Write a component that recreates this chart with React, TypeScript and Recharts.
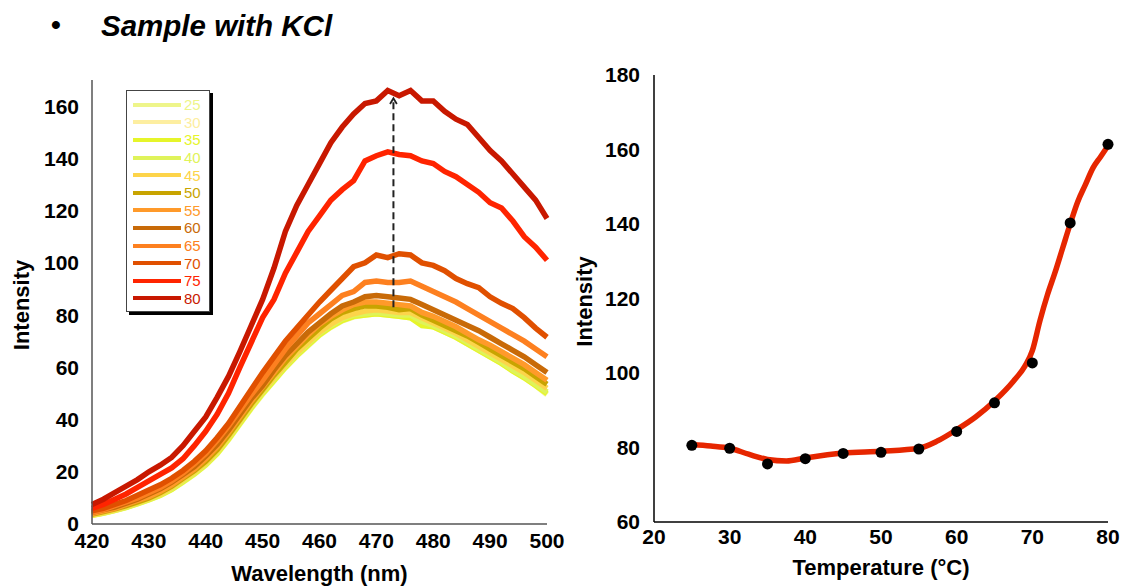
import React from 'react';
import {
  LineChart,
  ComposedChart,
  Line,
  Scatter,
  XAxis,
  YAxis,
  Legend,
  Label,
} from 'recharts';

const FONT = '"Liberation Sans", Arial, Helvetica, sans-serif';

// left panel: emission spectra at each temperature
const wavelengths = [
  420, 422, 424, 426, 428, 430, 432, 434, 436, 438, 440, 442, 444, 446, 448, 450, 452, 454, 456, 458, 460,
  462, 464, 466, 468, 470, 472, 474, 476, 478, 480, 482, 484, 486, 488, 490, 492, 494, 496, 498, 500,
];

const s25 = [3.3, 4.1, 5.1, 6.3, 7.7, 9.2, 10.9, 13.2, 16, 19, 22.5, 26.8, 32.2, 38.2, 44.2, 49.7, 54.8, 59.8, 64.3, 68.3, 72.3, 75.3, 77.8, 79.3, 80, 80.5, 80, 79.5, 79, 77, 75.5, 73.5, 71.5, 69, 66.5, 64, 61.5, 58.7, 56, 53, 49.5];
const s30 = [3.4, 4.2, 5.2, 6.5, 7.9, 9.4, 11.1, 13.4, 16.3, 19.3, 22.8, 27.2, 32.7, 38.7, 44.7, 50.2, 55.2, 60.2, 64.7, 68.8, 72.8, 75.8, 78.3, 79.8, 80.5, 81, 80.5, 80, 79.5, 77.5, 75.8, 73.8, 71.8, 69.3, 66.8, 64.3, 61.8, 59, 56.5, 53.5, 50.5];
const s35 = [3.3, 4.2, 5.2, 6.4, 7.8, 9.3, 11, 13.3, 16.2, 19.2, 22.7, 27, 32.5, 38.5, 44.5, 50, 55, 60, 64.5, 68.5, 72.5, 75.5, 78, 79.5, 80, 80.5, 80, 79.5, 79, 76, 75.5, 73.5, 71.5, 69, 66.5, 64, 61.5, 58.5, 56, 53, 50];
const s40 = [3.5, 4.3, 5.3, 6.5, 8, 9.5, 11.2, 13.5, 16.5, 19.5, 23, 27.5, 33, 39, 45, 50.5, 55.5, 60.5, 65, 69, 73, 76, 78.5, 80, 80.5, 81, 80.5, 80, 80, 77.5, 76, 74, 72, 69.5, 67, 64.5, 62, 59, 56.5, 53.5, 50.5];
const s45 = [3.5, 4.5, 5.5, 6.8, 8.2, 9.8, 11.5, 14, 17, 20, 23.5, 28, 33.5, 39.5, 45.5, 51, 56, 61, 65.5, 69.5, 73.5, 76.5, 79, 80.5, 81.5, 82, 81.5, 81, 81, 79, 77, 75, 73, 70.5, 68, 65.5, 63, 60.5, 58, 55, 52];
const s50 = [3.8, 4.8, 5.8, 7, 8.5, 10, 12, 14.5, 17.5, 20.5, 24, 28.5, 34, 40, 46, 51.5, 57, 62, 67, 71, 75, 78.5, 81, 82.5, 83.5, 83.5, 83, 82, 82.5, 80, 78, 76, 74, 72, 69.5, 67, 64.5, 62, 59.5, 56.5, 53.5];
const s55 = [4, 5, 6, 7.5, 9, 10.5, 12.5, 15, 18, 21, 25, 29.5, 35, 41, 47, 52.5, 58, 63.5, 68, 72.5, 76.5, 79.5, 82, 84, 85, 85, 84.5, 84, 83.5, 81, 79.5, 77.5, 75.5, 73, 70.5, 68.5, 66, 63.5, 61, 58, 55];
const s60 = [4.5, 5.5, 6.5, 8, 9.5, 11.5, 13.5, 16, 19, 22, 26, 30.5, 36, 42, 48, 53, 59, 64.5, 69, 73.5, 77, 80.5, 83.5, 85, 87, 87.5, 87, 86.5, 86, 84, 82, 80, 78, 76, 74, 71.5, 69, 66.5, 64, 61, 58];
const s65 = [4.5, 5.5, 7, 8.5, 10, 12, 14, 16.5, 19.5, 23, 27, 32, 37.5, 43.5, 49.5, 55, 61, 67, 72, 77, 80.5, 84, 87.5, 89, 92.5, 93, 92.5, 92.5, 93, 91, 89, 87, 85, 82.5, 80, 77.5, 75, 72.5, 70, 67, 64];
const s70 = [5, 6, 7.5, 9, 11, 13, 15, 17.5, 20.5, 24, 28, 33, 38.5, 45, 51.5, 58, 64, 70, 75, 80, 85, 89.5, 94, 98.5, 100, 103, 102, 103.5, 103, 100, 99, 97, 94, 92, 90.5, 87, 84.5, 82.5, 79, 75, 71.5];
const s75 = [6, 7.5, 9.5, 11.5, 14, 16.5, 19, 21.5, 25, 30, 35.5, 42, 50, 60, 69.5, 79, 86, 96, 104, 112, 118, 124, 128, 131.5, 139, 141, 142.5, 141.5, 141, 139, 138, 135, 133, 130, 127, 123, 121, 116, 110, 106, 101];
const s80 = [7.5, 9.5, 12, 14.5, 17, 20, 22.5, 25.5, 30, 35.5, 41, 48.5, 56.5, 66, 76, 86, 98, 112, 122, 130, 138, 146, 152, 157, 161, 162, 166, 164, 166, 162, 162, 158, 155, 153, 148, 143, 139, 134, 129, 124, 117];

const temps = ['25', '30', '35', '40', '45', '50', '55', '60', '65', '70', '75', '80'];
const spectra = [s25, s30, s35, s40, s45, s50, s55, s60, s65, s70, s75, s80];
const colors = [
  '#eef58a', '#fdeea0', '#e6f52a', '#dff35a', '#fdd44a', '#c8a400',
  '#ff9a2a', '#c86a08', '#fd8020', '#e05000', '#ff2400', '#c81800',
];

const leftTicksX = [420, 430, 440, 450, 460, 470, 480, 490, 500];
const leftTicksY = [0, 20, 40, 60, 80, 100, 120, 140, 160];

// dashed arrow marking the rise of the peak
const arrowShaft = [{ nm: 473, v: 83 }, { nm: 473, v: 162.5 }];
const arrowHead = [{ nm: 472.4, v: 160.8 }, { nm: 473, v: 163 }, { nm: 473.6, v: 160.8 }];

// right panel: peak intensity vs temperature
const tempC = [25, 30, 35, 40, 45, 50, 55, 60, 65, 70, 75, 80];
const peakIntensity = [80.6, 79.8, 75.6, 77, 78.4, 78.7, 79.6, 84.3, 92, 102.7, 140.3, 161.4];
const fitT = [25, 27.5, 30, 32.5, 35, 37.5, 40, 45, 50, 55, 57.5, 60, 62.5, 65, 67.5, 69, 70, 71, 72, 73, 74, 75, 76, 77, 78, 79, 80];
const fitV = [80.8, 80.4, 79.8, 78.2, 76.8, 76.4, 77.2, 78.5, 79, 79.8, 81.8, 84.8, 88.2, 92.5, 97.8, 101.8, 106, 114, 121, 127, 133.5, 140, 146, 150.5, 155, 158, 161];
const rightTicksX = [20, 30, 40, 50, 60, 70, 80];
const rightTicksY = [60, 80, 100, 120, 140, 160, 180];

const spectraRows = wavelengths.map((nm, i) => {
  const row: Record<string, number> = { nm };
  temps.forEach((t, k) => {
    row['t' + t] = spectra[k][i];
  });
  return row;
});
const points = tempC.map((t, i) => ({ t, v: peakIntensity[i] }));
const fitRows = fitT.map((t, i) => ({ t, v: fitV[i] }));

const tickStyle = { fontSize: 21, fontWeight: 700, fill: '#000', fontFamily: FONT };

const TempLegend = () => (
  <div
    style={{
      width: 84,
      height: 222,
      border: '1px solid #444',
      boxShadow: '3px 3px 0 #000',
      background: '#fff',
      boxSizing: 'border-box',
      paddingTop: 5,
    }}
  >
    {temps.map((t, k) => (
      <div key={t} style={{ display: 'flex', alignItems: 'center', height: 17.6 }}>
        <div style={{ marginLeft: 6, width: 48, height: 4, background: colors[k] }} />
        <span style={{ marginLeft: 3, fontSize: 15, color: colors[k], fontFamily: FONT, lineHeight: '15px' }}>{t}</span>
      </div>
    ))}
  </div>
);

const yTitle = (dx: number) => (props: any) => {
  const { x, y, height } = props.viewBox;
  const cx = x + dx;
  const cy = y + height / 2 + 3;
  return (
    <text
      x={cx}
      y={cy}
      transform={`rotate(-90, ${cx}, ${cy})`}
      textAnchor="middle"
      dominantBaseline="central"
      style={{ fontSize: 22, fontWeight: 700, fontFamily: FONT, fill: '#000' }}
    >
      Intensity
    </text>
  );
};

const xTitle = (text: string, dy: number) => (props: any) => {
  const { x, y, width } = props.viewBox;
  return (
    <text
      x={x + width / 2}
      y={y + dy}
      textAnchor="middle"
      dominantBaseline="central"
      style={{ fontSize: 22, fontWeight: 700, fontFamily: FONT, fill: '#000' }}
    >
      {text}
    </text>
  );
};

const Dot = (props: any) => <circle cx={props.cx} cy={props.cy} r={5.5} fill="#000" />;

export default function App() {
  return (
    <div style={{ position: 'absolute', left: 0, top: 0, width: 1123, height: 586, background: '#fff', fontFamily: FONT }}>
      <div style={{ position: 'absolute', left: 51, top: 9, fontSize: 28, fontWeight: 700 }}>•</div>
      <div style={{ position: 'absolute', left: 101, top: 9, fontSize: 29.5, fontWeight: 700, fontStyle: 'italic' }}>
        Sample with KCl
      </div>

      <div style={{ position: 'absolute', left: 0, top: 0 }}>
        <LineChart width={580} height={586} data={spectraRows} margin={{ top: 80, right: 33, bottom: 0, left: 0 }}>
          <XAxis
            dataKey="nm"
            type="number"
            domain={[420, 500]}
            ticks={leftTicksX}
            height={62}
            tickLine={false}
            tickSize={0}
            tickMargin={9}
            tick={tickStyle}
            stroke="#555"
            strokeWidth={1.5}
            interval={0}
          >
            <Label content={xTitle('Wavelength (nm)', 49)} />
          </XAxis>
          <YAxis
            type="number"
            domain={[0, 170]}
            ticks={leftTicksY}
            width={92}
            tickLine={false}
            tickSize={0}
            tickMargin={13}
            tick={tickStyle}
            stroke="#555"
            strokeWidth={1.5}
            interval={0}
          >
            <Label content={yTitle(21)} />
          </YAxis>
          <Legend
            verticalAlign="middle"
            align="center"
            layout="vertical"
            wrapperStyle={{ left: 126, top: 90, width: 88, height: 226 }}
            content={() => <TempLegend />}
          />
          {temps.map((t, k) => (
            <Line
              key={t}
              type="linear"
              dataKey={'t' + t}
              stroke={colors[k]}
              strokeWidth={5.5}
              dot={false}
              isAnimationActive={false}
              legendType="none"
            />
          ))}
          <Line
            data={arrowShaft}
            dataKey="v"
            type="linear"
            stroke="#222"
            strokeWidth={2}
            strokeDasharray="7 4"
            dot={false}
            isAnimationActive={false}
            legendType="none"
          />
          <Line
            data={arrowHead}
            dataKey="v"
            type="linear"
            stroke="#222"
            strokeWidth={1.8}
            dot={false}
            isAnimationActive={false}
            legendType="none"
          />
        </LineChart>
      </div>

      <div style={{ position: 'absolute', left: 560, top: 0 }}>
        <ComposedChart width={563} height={586} margin={{ top: 75, right: 15, bottom: 0, left: 0 }}>
          <XAxis
            dataKey="t"
            type="number"
            domain={[20, 80]}
            ticks={rightTicksX}
            height={64}
            tickLine={false}
            tickSize={0}
            tickMargin={7}
            tick={tickStyle}
            stroke="#000"
            strokeWidth={1.5}
            interval={0}
          >
            <Label content={xTitle('Temperature (°C)', 45)} />
          </XAxis>
          <YAxis
            dataKey="v"
            type="number"
            domain={[60, 180]}
            ticks={rightTicksY}
            width={94}
            tickLine={false}
            tickSize={0}
            tickMargin={14}
            tick={tickStyle}
            stroke="#000"
            strokeWidth={1.5}
            interval={0}
          >
            <Label content={yTitle(24)} />
          </YAxis>
          <Scatter data={points} dataKey="v" fill="#000" shape={<Dot />} isAnimationActive={false} />
          <Line
            data={fitRows}
            dataKey="v"
            type="monotone"
            stroke="#e62600"
            strokeWidth={5.5}
            dot={false}
            isAnimationActive={false}
          />
        </ComposedChart>
      </div>
    </div>
  );
}
